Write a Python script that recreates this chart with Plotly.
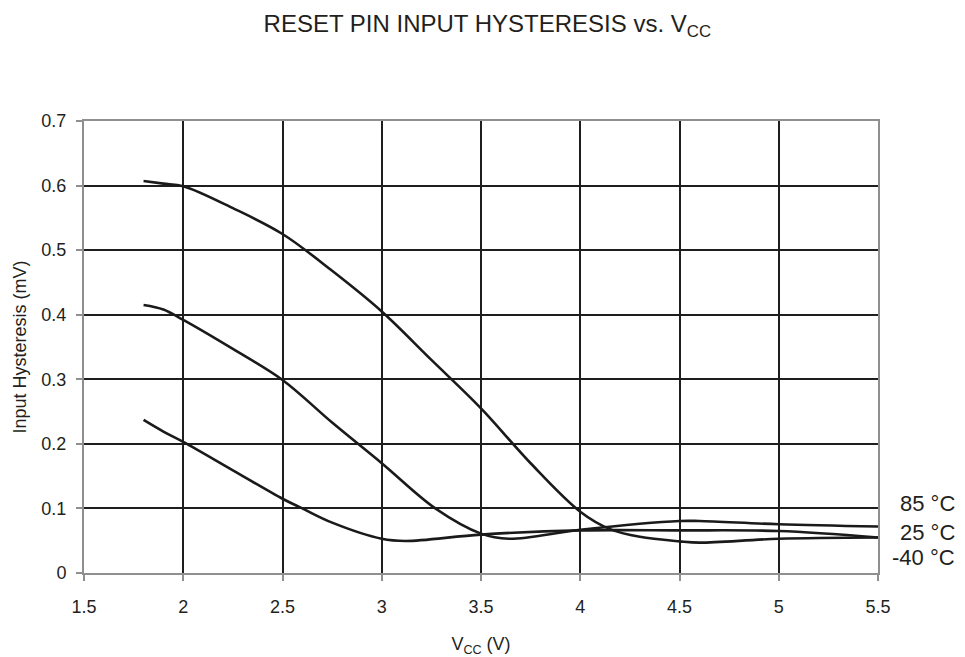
import plotly.graph_objects as go

# Supply voltage (V) and measured input hysteresis for the three temperatures
vcc_m40 = [1.8, 1.9, 2.0, 2.25, 2.5, 2.75, 3.0, 3.25, 3.5, 3.75, 4.0, 4.15, 4.3, 4.5, 4.6, 5.0, 5.5]
hyst_m40 = [0.607, 0.603, 0.599, 0.565, 0.525, 0.468, 0.405, 0.33, 0.255, 0.17, 0.095, 0.068, 0.056, 0.049, 0.047, 0.053, 0.055]

vcc_85 = [1.8, 1.9, 2.0, 2.25, 2.5, 2.75, 3.0, 3.27, 3.5, 3.64, 4.0, 4.5, 4.6, 5.0, 5.5]
hyst_85 = [0.415, 0.408, 0.392, 0.347, 0.299, 0.233, 0.17, 0.1, 0.061, 0.053, 0.067, 0.0805, 0.0805, 0.0755, 0.072]

vcc_25 = [1.8, 1.9, 2.0, 2.25, 2.5, 2.6, 2.75, 3.0, 3.12, 3.5, 4.0, 4.5, 5.0, 5.5]
hyst_25 = [0.237, 0.219, 0.203, 0.159, 0.115, 0.1, 0.078, 0.053, 0.0496, 0.0595, 0.066, 0.066, 0.065, 0.055]

series_names = ["85 °C", "25 °C", "-40 °C"]

x_ticks = [1.5, 2, 2.5, 3, 3.5, 4, 4.5, 5, 5.5]
y_ticks = [0, 0.1, 0.2, 0.3, 0.4, 0.5, 0.6, 0.7]

FONT = "Liberation Sans, Arial, sans-serif"
TEXT = "#231f20"
GRID = "#1e1e1e"
AXIS = "#8f8f8f"

fig = go.Figure()
for xs, ys, name in [(vcc_85, hyst_85, series_names[0]),
                     (vcc_25, hyst_25, series_names[1]),
                     (vcc_m40, hyst_m40, series_names[2])]:
    fig.add_trace(go.Scatter(
        x=xs, y=ys, name=name, mode="lines",
        line=dict(color="#1a1a1a", width=2.6, shape="spline", smoothing=1.0),
        showlegend=False, hoverinfo="skip",
    ))

# Temperature labels stacked at the right edge of the plot
label_y = [0.107, 0.063, 0.024]
for name, yv in zip(series_names, label_y):
    fig.add_annotation(
        x=1.099, xref="paper", y=yv, yref="y", text=name, showarrow=False,
        xanchor="right", yanchor="middle",
        font=dict(family=FONT, size=22, color=TEXT),
    )

fig.update_layout(
    width=965, height=657,
    margin=dict(l=84, r=87, t=121, b=84),
    paper_bgcolor="white", plot_bgcolor="white",
    title=dict(
        text="RESET PIN INPUT HYSTERESIS vs. V<sub>CC</sub>",
        x=0.505, xref="container", xanchor="center",
        y=1 - 24 / 657, yref="container", yanchor="middle",
        font=dict(family=FONT, size=24, color=TEXT),
    ),
    font=dict(family=FONT, color=TEXT),
)

fig.update_xaxes(
    range=[1.5, 5.5], tickvals=x_ticks, ticktext=[f"{v:g}" for v in x_ticks],
    showgrid=True, gridcolor=GRID, gridwidth=2,
    showline=True, linecolor=AXIS, linewidth=2, mirror=True,
    ticks="outside", ticklen=6, tickcolor=AXIS, tickwidth=1.5,
    tickfont=dict(family=FONT, size=18, color=TEXT),
    ticklabelstandoff=10, automargin=False,
    title=dict(text="V<sub>CC</sub> (V)", font=dict(family=FONT, size=18, color=TEXT), standoff=25),
    zeroline=False,
)
fig.update_yaxes(
    range=[0, 0.7], tickvals=y_ticks, ticktext=[f"{v:g}" for v in y_ticks],
    showgrid=True, gridcolor=GRID, gridwidth=2,
    showline=True, linecolor=AXIS, linewidth=2, mirror=True,
    ticks="outside", ticklen=6, tickcolor=AXIS, tickwidth=1.5,
    tickfont=dict(family=FONT, size=18, color=TEXT),
    ticklabelstandoff=6, automargin=False,
    title=dict(text="Input Hysteresis (mV)", font=dict(family=FONT, size=18, color=TEXT), standoff=10),
    zeroline=False,
)

fig.write_html("out.html")
